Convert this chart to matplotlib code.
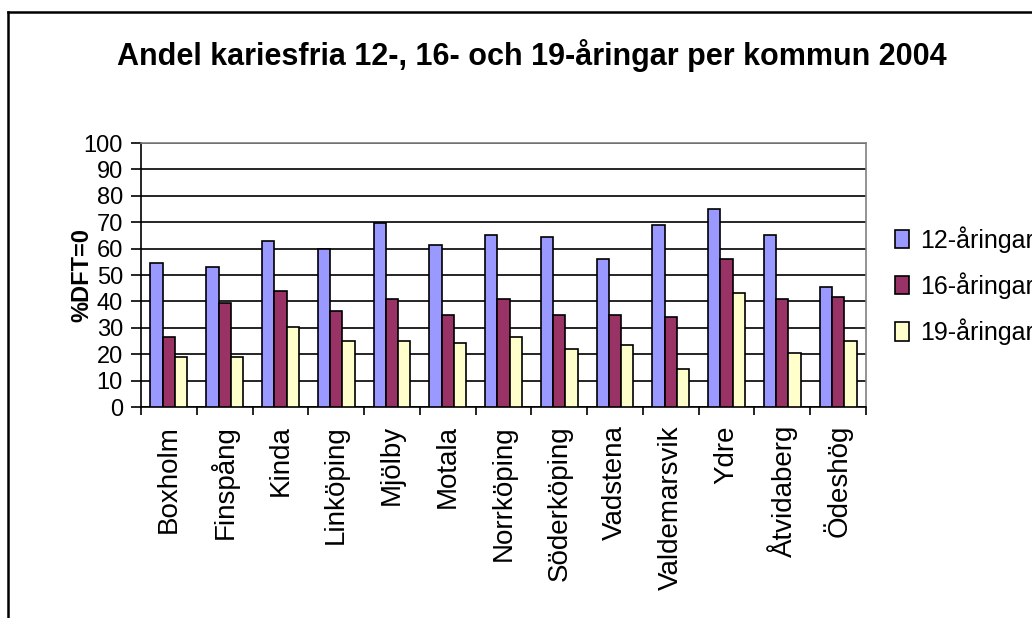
import matplotlib
matplotlib.use("Agg")
import matplotlib.pyplot as plt
import numpy as np
from matplotlib.lines import Line2D

categories = ["Boxholm", "Finspång", "Kinda", "Linköping", "Mjölby", "Motala",
              "Norrköping", "Söderköping", "Vadstena", "Valdemarsvik", "Ydre",
              "Åtvidaberg", "Ödeshög"]
s12 = [54.6, 53.2, 62.9, 59.9, 69.7, 61.4, 65.2, 64.4, 56.1, 69.0, 75.1, 65.2, 45.4]
s16 = [26.5, 39.5, 43.9, 36.3, 40.9, 34.8, 40.9, 34.8, 34.8, 34.1, 56.1, 40.9, 41.6]
s19 = [18.9, 18.9, 30.3, 24.9, 24.9, 24.2, 26.5, 21.9, 23.4, 14.3, 43.2, 20.4, 24.9]
series_names = ["12-åringar", "16-åringar", "19-åringar"]
yticks = list(range(0, 101, 10))
title = "Andel kariesfria 12-, 16- och 19-åringar per kommun 2004"
ylabel = "%DFT=0"

plt.rcParams['font.family'] = ['Liberation Sans', 'DejaVu Sans']

W, H = 1032, 618
fig = plt.figure(figsize=(W / 100, H / 100), dpi=100)
ax = fig.add_axes([141 / W, 1 - 407 / H, (866 - 141) / W, (407 - 143) / H])

colors = ["#9999FF", "#993366", "#FFFFCC"]
x = np.arange(len(categories))
bw = 0.22
for i, (vals, c, name) in enumerate(zip([s12, s16, s19], colors, series_names)):
    ax.bar(x + (i - 1) * bw, vals, width=bw, color=c, edgecolor="black",
           linewidth=1.2, label=name, zorder=3)

ax.set_xlim(-0.5, len(categories) - 0.5)
ax.set_ylim(0, 100)
ax.set_yticks(yticks)
ax.yaxis.grid(True, color="black", linewidth=1.2, zorder=0)
ax.set_axisbelow(True)
ax.tick_params(axis='y', labelsize=17, length=7, width=1.2, pad=6, direction='out')

ax.set_xticks(x)
ax.set_xticklabels(categories, rotation=90, fontsize=20, va='top', ha='center')
ax.set_xticks(np.arange(-0.5, len(categories)), minor=True)
ax.tick_params(axis='x', which='major', length=0, pad=13)
ax.tick_params(axis='x', which='minor', length=6, width=1.2, direction='out')

for s in ['left', 'bottom']:
    ax.spines[s].set_color('black')
    ax.spines[s].set_linewidth(1.2)
for s in ['top', 'right']:
    ax.spines[s].set_color('#808080')
    ax.spines[s].set_linewidth(1.2)

ax.set_ylabel(ylabel, fontsize=17, fontweight='bold')
ax.yaxis.set_label_coords(-(141 - 82) / (866 - 141), 0.5)
ax.yaxis.label.set_va('center')

fig.text(532 / W, 1 - 56 / H, title, fontsize=22, fontweight='bold',
         ha='center', va='center')

leg = fig.legend(loc='upper left', bbox_to_anchor=(895 / W, 1 - 226 / H),
                 frameon=False, fontsize=18, handlelength=0.55, handleheight=0.75,
                 handletextpad=0.45, labelspacing=0.78, borderaxespad=0,
                 borderpad=0)

fig.add_artist(Line2D([7.5 / W, 7.5 / W], [0, 1 - 12 / H], color='black', linewidth=1.8,
                      transform=fig.transFigure))
fig.add_artist(Line2D([7.5 / W, 1], [1 - 12 / H, 1 - 12 / H], color='black', linewidth=1.8,
                      transform=fig.transFigure))

fig.savefig("out.png", dpi=100)
